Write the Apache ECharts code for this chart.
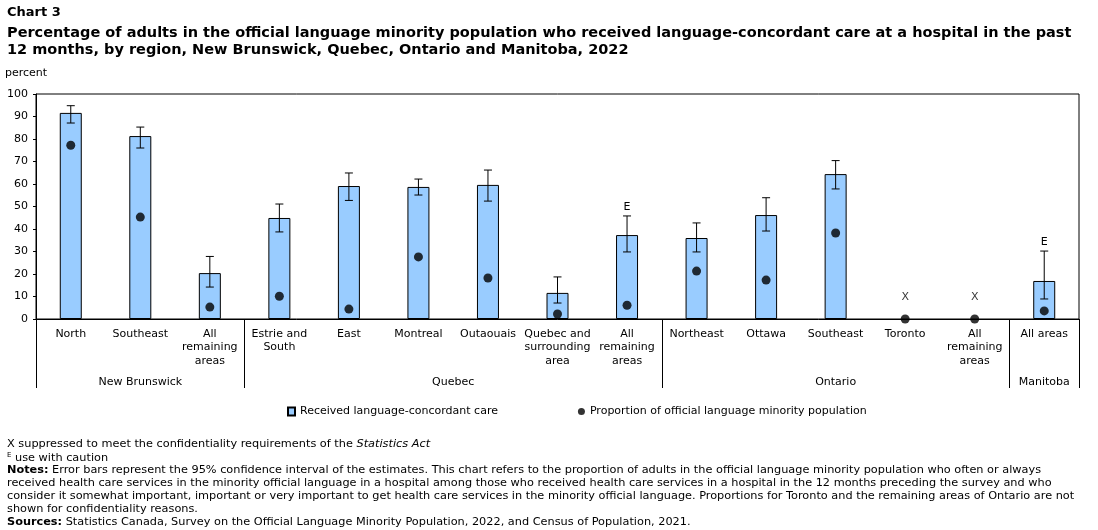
<!DOCTYPE html>
<html>
<head>
<meta charset="utf-8">
<title>Chart 3</title>
<script src="https://cdn.jsdelivr.net/npm/echarts@6/dist/echarts.min.js"></script>
<style>
  html, body {
    margin: 0;
    padding: 0;
    background: #ffffff;
  }

  #chart {
    width: 1098px;
    height: 530px;
  }
</style>
</head>
<body>
<div id="chart"></div>
<script>
// regions, in chart order
const categories = [
  'North', 'Southeast', 'All\nremaining\nareas',
  'Estrie and\nSouth', 'East', 'Montreal', 'Outaouais', 'Quebec and\nsurrounding\narea', 'All\nremaining\nareas',
  'Northeast', 'Ottawa', 'Southeast', 'Toronto', 'All\nremaining\nareas',
  'All areas'
]
const groupNames = ['New Brunswick', 'Quebec', 'Ontario', 'Manitoba']
const groupSizes = [3, 6, 5, 1]

// percent who received language-concordant care (null = suppressed)
const careValues = [91.6, 81.3, 20.4, 44.9, 59.1, 58.7, 59.6, 11.6, 37.3, 36.0, 46.2, 64.4, null, null, 16.9]
const ciLower = [87.1, 76.0, 14.2, 38.7, 52.7, 55.1, 52.4, 7.1, 29.8, 29.8, 39.1, 57.8, null, null, 8.9]
const ciUpper = [94.8, 85.3, 27.8, 51.1, 64.9, 62.2, 66.2, 18.7, 45.8, 42.7, 53.9, 70.4, null, null, 30.2]
// proportion of official language minority population
const populationValues = [77.2, 45.3, 5.3, 10.1, 4.4, 27.6, 18.2, 2.2, 6.1, 21.3, 17.3, 38.2, 0, 0, 3.6]
const qualityFlags = ['', '', '', '', '', '', '', '', 'E', '', '', '', 'X', 'X', 'E']

const yTicks = [0, 10, 20, 30, 40, 50, 60, 70, 80, 90, 100]

const titleLines = [
  'Chart 3',
  'Percentage of adults in the official language minority population who received language-concordant care at a hospital in the past\n12 months, by region, New Brunswick, Quebec, Ontario and Manitoba, 2022'
]
const noteLines = [
  'X suppressed to meet the confidentiality requirements of the {i|Statistics Act}',
  '{sup|E} use with caution',
  '{b|Notes:} Error bars represent the 95% confidence interval of the estimates. This chart refers to the proportion of adults in the official language minority population who often or always',
  'received health care services in the minority official language in a hospital among those who received health care services in a hospital in the 12 months preceding the survey and who',
  'consider it somewhat important, important or very important to get health care services in the minority official language. Proportions for Toronto and the remaining areas of Ontario are not',
  'shown for confidentiality reasons.',
  '{b|Sources:} Statistics Canada, Survey on the Official Language Minority Population, 2022, and Census of Population, 2021.'
]
const noteTops = [439, 452, 465, 478, 491, 504, 517]

// group boundaries and centres on a 0..15 scale matching the category slots
const groupEdges = [0]
const groupCenters = []
groupSizes.forEach(size => {
  const start = groupEdges[groupEdges.length - 1]
  groupCenters.push(start + size / 2)
  groupEdges.push(start + size)
})

const errorData = []
categories.forEach((c, i) => {
  if (ciLower[i] != null) {
    errorData.push([i, ciLower[i], ciUpper[i]])
  }
})

const font = 'DejaVu Sans'
const noteSize = 11.3

const chart = echarts.init(document.getElementById('chart'))

chart.setOption({
  animation: false,
  textStyle: { fontFamily: font, color: '#000' },
  title: [
    {
      text: titleLines[0],
      left: 2,
      top: 1,
      textStyle: { fontSize: 13, fontWeight: 'bold', color: '#000', fontFamily: font }
    },
    {
      text: titleLines[1],
      left: 2,
      top: 20,
      textStyle: { fontSize: 14.5, fontWeight: 'bold', color: '#000', fontFamily: font, lineHeight: 17 }
    }
  ],
  legend: {
    left: 282,
    top: 401,
    itemWidth: 7,
    itemHeight: 8,
    itemGap: 80,
    textStyle: { fontSize: 11, color: '#000', fontFamily: font },
    data: [
      { name: 'Received language-concordant care', icon: 'rect' },
      { name: 'Proportion of official language minority population', icon: 'circle' }
    ]
  },
  grid: {
    left: 36,
    right: 19,
    top: 94,
    height: 225,
    show: true,
    borderColor: '#000',
    borderWidth: 1
  },
  xAxis: [
    {
      type: 'category',
      data: categories,
      axisLine: { lineStyle: { color: '#000', width: 1 } },
      axisTick: { show: false },
      axisLabel: {
        interval: 0,
        fontSize: 11,
        lineHeight: 13.5,
        margin: 8,
        color: '#000'
      }
    },
    {
      // region groups under the category labels
      type: 'value',
      position: 'bottom',
      min: 0,
      max: 15,
      axisLine: { show: false },
      splitLine: { show: false },
      axisTick: {
        show: true,
        length: 69,
        customValues: groupEdges,
        lineStyle: { color: '#000', width: 1 }
      },
      axisLabel: {
        customValues: groupCenters,
        margin: 58,
        fontSize: 11,
        color: '#000',
        formatter: value => {
          const k = groupCenters.findIndex(c => Math.abs(c - value) < 1e-6)
          return k >= 0 ? groupNames[k] : ''
        }
      }
    }
  ],
  yAxis: {
    type: 'value',
    min: yTicks[0],
    max: yTicks[yTicks.length - 1],
    interval: 10,
    splitLine: { show: false },
    axisLine: { show: true, lineStyle: { color: '#000', width: 1 } },
    axisTick: { show: true, length: 3, lineStyle: { color: '#000' } },
    axisLabel: { fontSize: 11, margin: 8, color: '#000' }
  },
  graphic: [
    {
      type: 'text',
      left: 5,
      top: 68,
      style: { text: 'percent', fontSize: 11, fontFamily: font, fill: '#000' }
    },
    ...noteLines.map((line, k) => ({
      type: 'text',
      left: 7,
      top: noteTops[k],
      style: {
        text: line,
        fontSize: noteSize,
        fontFamily: font,
        fill: '#000',
        rich: {
          b: { fontSize: noteSize, fontFamily: font, fontWeight: 'bold' },
          i: { fontSize: noteSize, fontFamily: font, fontStyle: 'italic' },
          sup: { fontSize: 7, fontFamily: font, padding: [0, 0, 5, 0] }
        }
      }
    }))
  ],
  series: [
    {
      name: 'Received language-concordant care',
      type: 'bar',
      barWidth: 22,
      data: careValues,
      itemStyle: { color: '#99ccff', borderColor: '#000', borderWidth: 1 },
      z: 2
    },
    {
      name: 'error bars',
      type: 'custom',
      data: errorData,
      z: 3,
      renderItem(params, api) {
        const i = api.value(0)
        const bottom = api.coord([i, api.value(1)])
        const top = api.coord([i, api.value(2)])
        const cap = 4
        const lineStyle = { stroke: '#000', lineWidth: 1 }
        const children = [
          { type: 'line', shape: { x1: top[0], y1: top[1], x2: bottom[0], y2: bottom[1] }, style: lineStyle },
          { type: 'line', shape: { x1: top[0] - cap, y1: top[1], x2: top[0] + cap, y2: top[1] }, style: lineStyle },
          { type: 'line', shape: { x1: bottom[0] - cap, y1: bottom[1], x2: bottom[0] + cap, y2: bottom[1] }, style: lineStyle }
        ]
        if (qualityFlags[i] === 'E') {
          children.push({
            type: 'text',
            style: {
              text: 'E',
              x: top[0],
              y: top[1] - 3,
              align: 'center',
              verticalAlign: 'bottom',
              fontSize: 11,
              fontFamily: font,
              fill: '#000'
            }
          })
        }
        return { type: 'group', children }
      }
    },
    {
      name: 'Proportion of official language minority population',
      type: 'scatter',
      symbol: 'circle',
      symbolSize: 9,
      data: populationValues,
      itemStyle: { color: '#000' },
      z: 4,
      label: {
        show: true,
        position: 'top',
        distance: 12,
        fontSize: 11,
        color: '#000',
        formatter: p => (qualityFlags[p.dataIndex] === 'X' ? 'X' : '')
      }
    }
  ]
})
</script>
</body>
</html>
